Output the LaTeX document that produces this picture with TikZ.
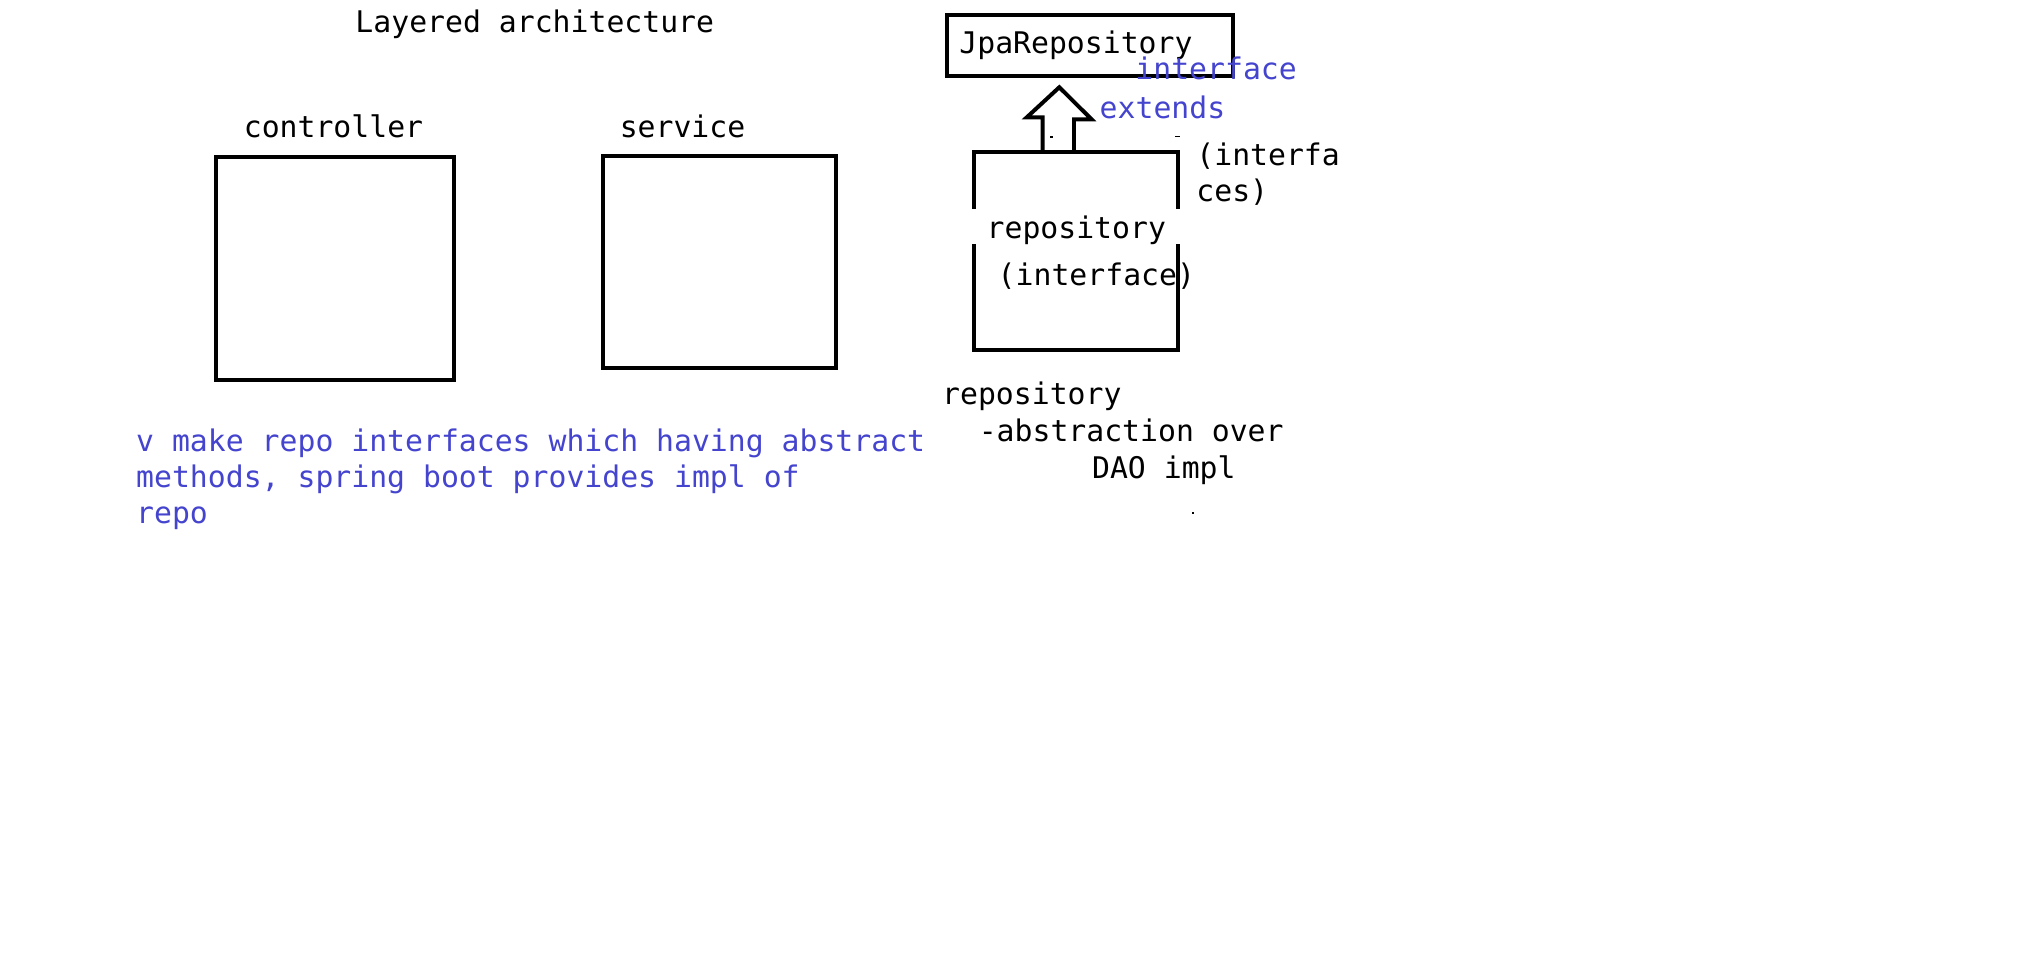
\documentclass[tikz,border=0pt]{standalone}
\usepackage{fontspec}
\setmonofont{DejaVu Sans Mono}
\usepackage{tikz}
\definecolor{notes}{RGB}{68,68,206}

\begin{document}
\begin{tikzpicture}[x=0.02cm, y=-0.02cm,
  box/.style={draw=black, line width=1.75pt, minimum width=#1, inner sep=0pt},
  txt/.style={font=\ttfamily\fontsize{13.15}{16.1}\selectfont, inner sep=0pt, anchor=base west},
  blue/.style={txt, text=notes}]
\useasboundingbox (0,0) rectangle (1568.5,758.6);
\node[txt] (title) at (275.4,25.1) {Layered architecture};
% the three layers
\node[txt] (ctrlname) at (188.8,106.8) {controller};
\node[box=3.686cm, minimum height=3.454cm] (ctrl) at (259.75,208.15) {};
\node[txt] (servname) at (480.4,106.8) {service};
\node[box=3.604cm, minimum height=3.294cm] (serv) at (558.1,203.15) {};
\node[box=3.164cm, minimum height=3.072cm] (repo) at (834.9,195) {};
\node[txt, anchor=base, fill=white, minimum width=3.4cm, text height=0.45cm, text depth=0.088cm] (reponame) at (834.9,184.9) {repository};
\node[txt] (repoif) at (773.6,221.1) {(interface)};
%\node[label=above: repository] at (834.9,118) {};
% JpaRepository on top
\node[box=4.442cm, txt, anchor=center, minimum height=0.946cm, text width=4.058cm, inner xsep=0.192cm, align=left] (jpa) at (845.65,35.05) {JpaRepository};
\node[blue] (jpaif) at (880.4,61.3) {interface};
\node[blue] (ext) at (852.7,91.8) {extends};
% block arrow repo -> jpa
\coordinate (arrowfoot) at ([xshift=-0.278cm]repo.north);
\coordinate (arrowtip) at (821.7,67.7);
\draw[line width=1.75pt, line join=miter] (arrowfoot) ++(-12.2,0) -- ++(0,-25.6) -- ++(-12.4,0) -- (arrowtip) -- ++(25.1,24.9) -- ++(-13.7,0) -- ++(0,25.6);
\fill (814.8,105.5) rectangle (816.6,107.3);
\fill (911.5,105.3) rectangle (915.3,106.6);
\node[txt] (ifs1) at (927.7,128) {(interfa};
\node[txt] (ifs2) at (927.7,156.4) {ces)};
% notes under the repository
\node[txt] (reponote) at (730.5,313.4) {repository};
\node[txt] (absnote) at (758.9,342.6) {-abstraction over};
\node[txt] (daonote) at (846.8,371) {DAO impl};
\fill (925,397) rectangle (926.4,398.4);
\node[blue] (note1) at (105.3,349.9) {v make repo interfaces which having abstract};
\node[blue] (note2) at (105.3,378) {methods, spring boot provides impl of};
\node[blue] (note3) at (105.3,406) {repo};
\end{tikzpicture}
\end{document}
